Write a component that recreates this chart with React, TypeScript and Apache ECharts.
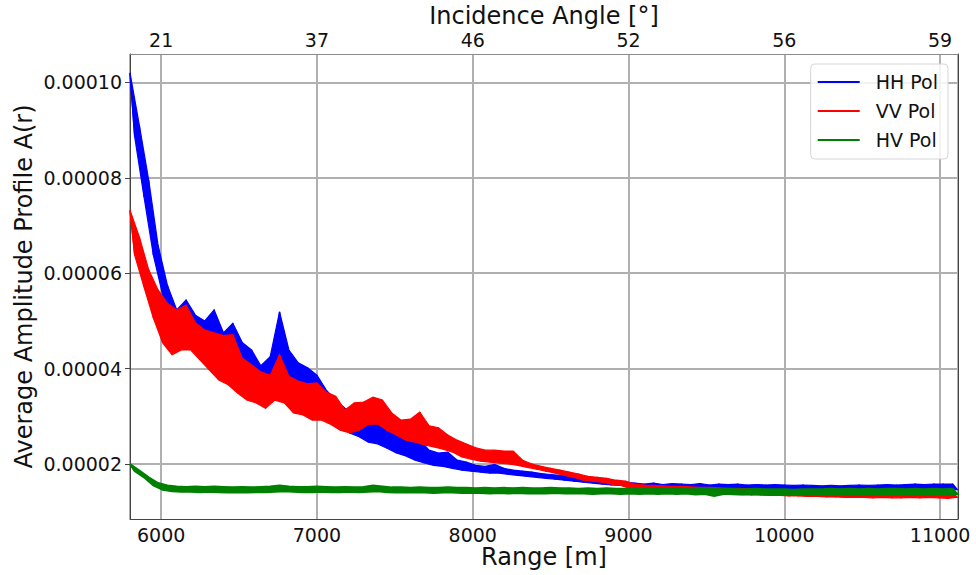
import React, { useEffect, useRef } from "react";
import * as echarts from "echarts";

// Sampling grid of the range axis (metres); samples alternate between the
// upper and lower edge of each noisy trace.
const RANGE_START = 5800;
const RANGE_STEP = 30;
const X_MIN = 5800;
const X_MAX = 11115;
// Amplitude values are stored in units of 1e-5
const Y_MIN = 0.847;
const Y_MAX = 10.595;
const AMP_UNIT = 1e-5;

const rangeTicks = [6000, 7000, 8000, 9000, 10000, 11000];
const angleLabels = ["21", "37", "46", "52", "56", "59"];
const ampTicks = [2, 4, 6, 8, 10];
const seriesNames = ["HH Pol", "VV Pol", "HV Pol"];
const seriesColors = ["#0000ff", "#ff0000", "#008000"];

const hhPol = [
  10.2, 8.86, 9.1, 7.6, 7.95, 6.38, 6.59, 5.54, 5.75, 5.19,
  5.23, 4.91, 5.44, 4.81, 5.12, 4.69, 5.0, 4.55, 5.23, 4.39,
  4.75, 4.33, 4.95, 4.2, 4.55, 4.08, 4.39, 3.91, 4.06, 3.76,
  4.25, 3.84, 5.19, 3.84, 4.39, 3.66, 4.12, 3.51, 4.02, 3.38,
  3.86, 3.13, 3.55, 2.97, 3.34, 2.8, 3.17, 2.65, 3.03, 2.57,
  2.92, 2.46, 2.88, 2.42, 2.8, 2.33, 2.65, 2.23, 2.55, 2.17,
  2.46, 2.08, 2.5, 2.02, 2.29, 1.97, 2.23, 1.95, 2.25, 1.91,
  2.08, 1.87, 2.04, 1.85, 1.97, 1.83, 1.95, 1.81, 1.99, 1.81,
  1.91, 1.78, 1.87, 1.76, 1.85, 1.74, 1.83, 1.72, 1.8, 1.7,
  1.78, 1.68, 1.76, 1.66, 1.74, 1.64, 1.72, 1.62, 1.7, 1.6,
  1.68, 1.58, 1.66, 1.56, 1.64, 1.55, 1.62, 1.53, 1.6, 1.48,
  1.58, 1.47, 1.6, 1.49, 1.57, 1.46, 1.59, 1.48, 1.58, 1.46,
  1.57, 1.47, 1.59, 1.48, 1.56, 1.46, 1.58, 1.47, 1.57, 1.45,
  1.58, 1.47, 1.56, 1.46, 1.57, 1.45, 1.56, 1.46, 1.57, 1.45,
  1.56, 1.44, 1.55, 1.45, 1.56, 1.44, 1.55, 1.43, 1.54, 1.44,
  1.55, 1.43, 1.54, 1.42, 1.55, 1.44, 1.56, 1.43, 1.55, 1.44,
  1.56, 1.44, 1.57, 1.45, 1.56, 1.44, 1.57, 1.45, 1.58, 1.45,
  1.57, 1.46, 1.58, 1.45, 1.58, 1.46, 1.58, 1.46,
];

const vvPol = [
  7.32, 6.38, 6.76, 5.71, 6.07, 5.06, 5.65, 4.54, 5.37, 4.29,
  5.23, 4.39, 5.33, 4.39, 4.96, 4.18, 4.81, 3.97, 4.75, 3.76,
  4.69, 3.66, 4.71, 3.49, 4.22, 3.34, 4.08, 3.28, 3.93, 3.17,
  3.86, 3.34, 4.29, 3.28, 3.84, 3.07, 3.74, 3.03, 3.68, 2.92,
  3.7, 2.92, 3.51, 2.83, 3.42, 2.71, 3.13, 2.65, 3.28, 2.71,
  3.3, 2.83, 3.4, 2.84, 3.34, 2.71, 3.07, 2.61, 2.92, 2.5,
  2.94, 2.46, 3.09, 2.4, 2.8, 2.36, 2.76, 2.31, 2.61, 2.25,
  2.5, 2.15, 2.42, 2.1, 2.34, 2.06, 2.29, 2.04, 2.29, 2.02,
  2.27, 2.0, 2.27, 1.97, 2.08, 1.93, 2.0, 1.89, 1.95, 1.85,
  1.91, 1.81, 1.87, 1.76, 1.83, 1.72, 1.79, 1.66, 1.74, 1.64,
  1.72, 1.62, 1.7, 1.58, 1.66, 1.55, 1.64, 1.49, 1.58, 1.44,
  1.56, 1.43, 1.55, 1.42, 1.54, 1.41, 1.53, 1.4, 1.53, 1.39,
  1.52, 1.39, 1.51, 1.38, 1.51, 1.38, 1.5, 1.37, 1.49, 1.36,
  1.49, 1.36, 1.48, 1.35, 1.47, 1.35, 1.46, 1.34, 1.46, 1.34,
  1.45, 1.33, 1.44, 1.33, 1.44, 1.32, 1.43, 1.32, 1.43, 1.31,
  1.42, 1.31, 1.42, 1.3, 1.42, 1.3, 1.41, 1.3, 1.41, 1.29,
  1.41, 1.3, 1.42, 1.29, 1.41, 1.29, 1.42, 1.3, 1.41, 1.29,
  1.42, 1.3, 1.41, 1.29, 1.42, 1.28, 1.4, 1.3,
];

const hvPol = [
  2.0, 1.85, 1.86, 1.72, 1.72, 1.55, 1.6, 1.46, 1.55, 1.43,
  1.53, 1.42, 1.52, 1.42, 1.53, 1.41, 1.52, 1.42, 1.53, 1.41,
  1.52, 1.4, 1.51, 1.41, 1.52, 1.4, 1.51, 1.41, 1.52, 1.41,
  1.53, 1.42, 1.55, 1.43, 1.53, 1.42, 1.52, 1.41, 1.52, 1.41,
  1.53, 1.42, 1.52, 1.41, 1.51, 1.41, 1.52, 1.42, 1.51, 1.41,
  1.52, 1.42, 1.55, 1.43, 1.53, 1.41, 1.51, 1.4, 1.51, 1.4,
  1.5, 1.4, 1.51, 1.4, 1.5, 1.39, 1.5, 1.4, 1.51, 1.4,
  1.5, 1.39, 1.5, 1.39, 1.49, 1.39, 1.5, 1.38, 1.49, 1.39,
  1.5, 1.38, 1.49, 1.39, 1.5, 1.38, 1.49, 1.38, 1.49, 1.38,
  1.5, 1.39, 1.49, 1.38, 1.49, 1.38, 1.48, 1.38, 1.49, 1.37,
  1.48, 1.38, 1.49, 1.38, 1.48, 1.37, 1.48, 1.38, 1.49, 1.37,
  1.48, 1.38, 1.48, 1.37, 1.49, 1.38, 1.48, 1.37, 1.48, 1.38,
  1.47, 1.36, 1.48, 1.37, 1.48, 1.33, 1.47, 1.37, 1.48, 1.37,
  1.47, 1.36, 1.47, 1.37, 1.48, 1.36, 1.47, 1.37, 1.47, 1.36,
  1.47, 1.36, 1.46, 1.36, 1.47, 1.35, 1.47, 1.36, 1.47, 1.36,
  1.48, 1.37, 1.47, 1.36, 1.48, 1.37, 1.47, 1.36, 1.48, 1.37,
  1.47, 1.36, 1.48, 1.37, 1.48, 1.36, 1.47, 1.37, 1.48, 1.36,
  1.47, 1.37, 1.48, 1.36, 1.47, 1.37, 1.48, 1.37,
];

const allSeries = [hhPol, vvPol, hvPol];

const FONT = "DejaVu Sans";
const SPINE = "#444444";
const GRID = "#b0b0b0";

export default function App() {
  const ref = useRef<HTMLDivElement>(null);

  useEffect(() => {
    if (!ref.current) return;
    const chart = echarts.init(ref.current, null, { renderer: "svg" });

    const xOf = (i: number) => RANGE_START + RANGE_STEP * i;
    const toPairs = (vals: number[]) => vals.map((v, i) => [xOf(i), v]);

    // filled band between the upper-edge samples and the lower-edge samples
    const bandSeries = (vals: number[], k: number) => ({
      name: seriesNames[k] + " band",
      type: "custom",
      coordinateSystem: "cartesian2d",
      xAxisIndex: 0,
      yAxisIndex: 0,
      silent: true,
      z: 2 + k,
      data: [[xOf(0), vals[0]]],
      renderItem: (_params: any, api: any) => {
        const pts: number[][] = [];
        for (let i = 0; i < vals.length; i += 2) pts.push(api.coord([xOf(i), vals[i]]));
        const lastOdd = vals.length % 2 === 0 ? vals.length - 1 : vals.length - 2;
        for (let i = lastOdd; i >= 1; i -= 2) pts.push(api.coord([xOf(i), vals[i]]));
        return {
          type: "polygon",
          shape: { points: pts },
          style: {
            fill: seriesColors[k],
            stroke: seriesColors[k],
            lineWidth: k === 2 ? 2 : 1.2,
            lineJoin: "miter",
          },
        };
      },
    });

    const lineSeries = (vals: number[], k: number) => ({
      name: seriesNames[k],
      type: "line",
      xAxisIndex: 0,
      yAxisIndex: 0,
      data: toPairs(vals),
      showSymbol: false,
      symbol: "none",
      silent: true,
      color: seriesColors[k],
      lineStyle: { color: seriesColors[k], width: 1.4 },
      z: 2 + k,
    });

    const option: any = {
      animation: false,
      backgroundColor: "#ffffff",
      textStyle: { fontFamily: FONT },
      grid: {
        left: 130,
        right: 18,
        top: 54,
        bottom: 56,
        containLabel: false,
        outerBoundsMode: "none",
      },
      legend: {
        data: seriesNames,
        orient: "vertical",
        right: 28,
        top: 64,
        icon: "rect",
        itemWidth: 42,
        itemHeight: 2,
        itemGap: 9,
        padding: [8, 10, 9, 7],
        borderColor: "#d6d6d6",
        borderWidth: 1,
        borderRadius: 4,
        backgroundColor: "rgba(255,255,255,0.85)",
        textStyle: {
          fontFamily: FONT,
          fontSize: 19,
          color: "#111",
          lineHeight: 20,
          padding: [0, 0, 0, 11],
        },
      },
      xAxis: [
        {
          type: "value",
          position: "bottom",
          min: X_MIN,
          max: X_MAX,
          name: "Range [m]",
          nameLocation: "middle",
          nameGap: 26,
          nameMoveOverlap: false,
          nameTextStyle: { fontFamily: FONT, fontSize: 24, color: "#111" },
          axisLine: { show: true, lineStyle: { color: SPINE, width: 1 } },
          axisTick: { show: false },
          axisLabel: {
            customValues: rangeTicks,
            margin: 6,
            fontFamily: FONT,
            fontSize: 19,
            color: "#111",
            formatter: (v: number) => String(v),
          },
          splitLine: { show: true, lineStyle: { color: GRID, width: 2 } },
        },
        {
          type: "value",
          position: "top",
          min: X_MIN,
          max: X_MAX,
          name: "Incidence Angle [°]",
          nameLocation: "middle",
          nameGap: 26,
          nameMoveOverlap: false,
          nameTextStyle: { fontFamily: FONT, fontSize: 24, lineHeight: 24, color: "#111" },
          axisLine: { show: true, onZero: false, lineStyle: { color: "#8a8a8a", width: 1 } },
          axisTick: { show: false },
          axisLabel: {
            customValues: rangeTicks,
            margin: 5,
            fontFamily: FONT,
            fontSize: 19,
            lineHeight: 19,
            color: "#111",
            formatter: (v: number) => {
              const k = rangeTicks.indexOf(Math.round(v));
              return k >= 0 ? angleLabels[k] : "";
            },
          },
          splitLine: { show: false },
        },
      ],
      yAxis: [
        {
          type: "value",
          position: "left",
          min: Y_MIN,
          max: Y_MAX,
          name: "Average Amplitude Profile A(r)",
          nameLocation: "middle",
          nameGap: 94,
          nameMoveOverlap: false,
          nameTextStyle: { fontFamily: FONT, fontSize: 24, color: "#111" },
          axisLine: { show: true, onZero: false, lineStyle: { color: SPINE, width: 1 } },
          axisTick: {
            show: true,
            length: 5,
            customValues: ampTicks,
            lineStyle: { color: SPINE, width: 1 },
          },
          axisLabel: {
            customValues: ampTicks,
            margin: 8,
            fontFamily: FONT,
            fontSize: 19,
            color: "#111",
            formatter: (v: number) => (v * AMP_UNIT).toFixed(5),
          },
          splitLine: { show: true, lineStyle: { color: GRID, width: 2 } },
        },
        {
          type: "value",
          position: "right",
          min: Y_MIN,
          max: Y_MAX,
          axisLine: { show: true, onZero: false, lineStyle: { color: SPINE, width: 1 } },
          axisTick: { show: false },
          axisLabel: { show: false },
          splitLine: { show: false },
        },
      ],
      series: [
        ...allSeries.map((vals, k) => lineSeries(vals, k)),
        ...allSeries.map((vals, k) => bandSeries(vals, k)),
      ],
    };

    chart.setOption(option);
    return () => chart.dispose();
  }, []);

  return (
    <div
      ref={ref}
      style={{ position: "absolute", left: 0, top: 0, width: 976, height: 575 }}
    />
  );
}
